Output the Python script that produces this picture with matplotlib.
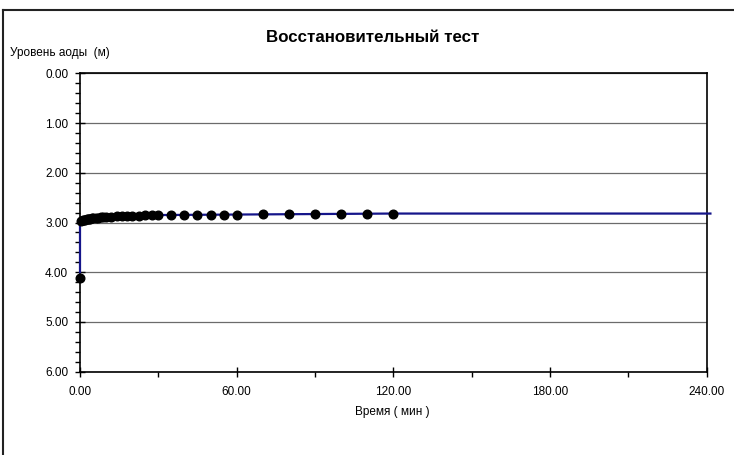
import matplotlib
matplotlib.use("Agg")
from matplotlib import pyplot as plt
from matplotlib.lines import Line2D
from matplotlib.ticker import MultipleLocator, FormatStrFormatter

plt.rcParams["font.family"] = ["Liberation Sans", "DejaVu Sans"]

# Measured recovery data: time since pump stop (min) and water level (m)
time_min = [0, 0.5, 1, 1.5, 2, 2.5, 3, 3.5, 4, 4.5, 5, 6, 7, 8, 9, 10,
            12, 14, 16, 18, 20, 22.5, 25, 27.5, 30, 35, 40, 45, 50, 55, 60,
            70, 80, 90, 100, 110, 120]
level_m = [4.12, 2.96, 2.95, 2.94, 2.94, 2.93, 2.93, 2.92, 2.92, 2.91, 2.91,
           2.90, 2.90, 2.89, 2.89, 2.88, 2.88, 2.87, 2.87, 2.86, 2.86, 2.86,
           2.85, 2.85, 2.85, 2.84, 2.84, 2.84, 2.84, 2.84, 2.84, 2.83, 2.83,
           2.83, 2.82, 2.82, 2.82]

# Fitted recovery curve
fit_time = [0, 0, 0.5, 2, 5, 10, 20, 30, 60, 120, 241.5]
fit_level = [4.0, 2.97, 2.95, 2.93, 2.91, 2.88, 2.86, 2.85, 2.84, 2.82, 2.82]

TITLE = "Восстановительный тест"
YLABEL = "Уровень аоды  (м)"
XLABEL = "Время ( мин )"

fig = plt.figure(figsize=(7.34, 4.55), dpi=100)
ax = fig.add_axes([80 / 734, 1 - 371.7 / 455, 626.5 / 734, 298.4 / 455])

ax.plot(fit_time, fit_level, color="#15158a", lw=1.6, zorder=3, clip_on=False)
ax.plot(time_min, level_m, "o", color="black", ms=6.2, zorder=4, clip_on=False)

ax.set_xlim(0, 240)
ax.set_ylim(6, 0)
ax.xaxis.set_major_locator(MultipleLocator(60))
ax.xaxis.set_minor_locator(MultipleLocator(30))
ax.yaxis.set_major_locator(MultipleLocator(1))
ax.yaxis.set_minor_locator(MultipleLocator(0.2))
ax.xaxis.set_major_formatter(FormatStrFormatter("%.2f"))
ax.yaxis.set_major_formatter(FormatStrFormatter("%.2f"))

ax.grid(axis="y", which="major", color="#6b6b6b", lw=0.9)
for spine in ax.spines.values():
    spine.set_color("black")
    spine.set_linewidth(1.2)

ax.tick_params(axis="both", which="major", direction="inout", length=7,
               width=1, colors="black", labelsize=8.5)
ax.tick_params(axis="both", which="minor", direction="out", length=3.5,
               width=1, colors="black")
ax.tick_params(axis="y", which="major", pad=5)
ax.tick_params(axis="x", which="major", pad=7)

fig.text(373 / 734, 1 - 37 / 455, TITLE, ha="center", va="center",
         fontsize=12.2, fontweight="bold")
fig.text(10 / 734, 1 - 53 / 455, YLABEL, ha="left", va="center", fontsize=8.5)
fig.text(392 / 734, 1 - 412 / 455, XLABEL, ha="center", va="center", fontsize=8.5)

# outer chart frame (cut at right and bottom edges)
fig.add_artist(Line2D([3 / 734, 1.0], [1 - 10 / 455] * 2, transform=fig.transFigure,
                      color="#222222", lw=1.5))
fig.add_artist(Line2D([3 / 734] * 2, [0.0, 1 - 10 / 455], transform=fig.transFigure,
                      color="#222222", lw=1.5))

fig.savefig("out.png", dpi=100, facecolor="white")
